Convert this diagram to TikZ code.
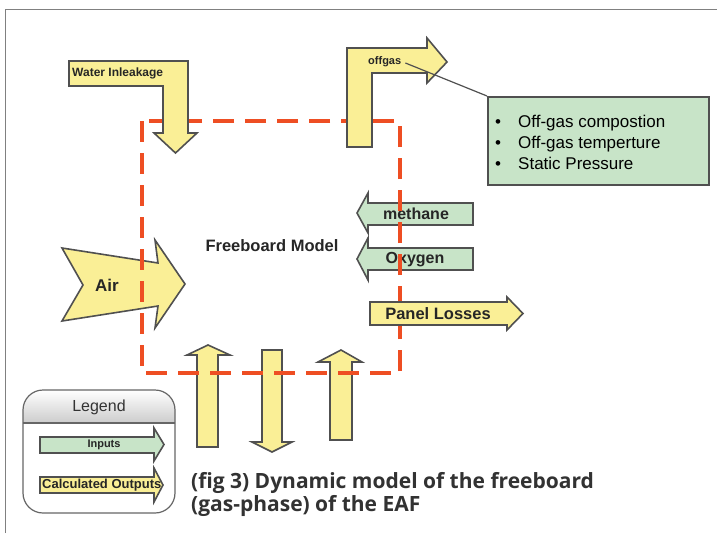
\documentclass[tikz,border=0pt]{standalone}
\usepackage{fontspec}
\setmainfont{Liberation Sans}
\newfontfamily\capfont{Open Sans}
\usetikzlibrary{shadings}
\definecolor{ayellow}{RGB}{250,239,150}
\definecolor{agreen}{RGB}{200,228,200}
\definecolor{aedge}{RGB}{80,80,80}
\definecolor{ared}{RGB}{238,78,35}
\definecolor{capgray}{RGB}{50,50,50}
\newcommand{\fs}[1]{\fontsize{#1}{#1}\selectfont}
\tikzset{
  yarrow/.style={fill=ayellow, draw=aedge, line width=1.6pt, line join=miter},
  garrow/.style={fill=agreen, draw=aedge, line width=1.6pt, line join=miter},
  lbl/.style={font=\bfseries, text=black!85, inner sep=0pt},
  redbox/.style={draw=ared, line width=3.4pt, dash pattern=on 21pt off 11pt},
}
\begin{document}
\begin{tikzpicture}[x=1pt,y=-1pt]
\useasboundingbox (0,0) rectangle (717,533);
\fill[white] (0,0) rectangle (717,533);
% outer frame
\draw[gray, line width=1pt] (5,533) -- (5,9) -- (717,9);

% arrows under the dashed box
\draw[yarrow] (62,248) -- (158,263) -- (155,240) -- (185,284) -- (155,328) -- (158,306) -- (62,321) -- (83,285) -- cycle;
\node[lbl, font=\bfseries\fs{17}] (air) at (107,285) {Air};
\draw[garrow] (357,213) -- (368,193) -- (368,203) -- (473,203) -- (473,225) -- (368,225) -- (368,233) -- cycle;
\node[lbl, font=\bfseries\fs{16}] (methane) at (416,214) {methane};
\draw[garrow] (357,259) -- (368,238) -- (368,248) -- (473,248) -- (473,270) -- (368,270) -- (368,280) -- cycle;
\node[lbl, font=\bfseries\fs{16}] (oxygen) at (415,260) {Oxygen};
\draw[yarrow] (197,447) -- (197,355) -- (187,355) -- (208,345) -- (230,355) -- (218,355) -- (218,447) -- cycle;
\draw[yarrow] (262,350) -- (282,350) -- (282,442) -- (292,442) -- (272,452) -- (252,442) -- (262,442) -- cycle;
\draw[yarrow] (330,440) -- (330,362) -- (318,362) -- (341,350) -- (362,362) -- (352,362) -- (352,440) -- cycle;

% dashed freeboard boundary
\draw[redbox] (142,121) rectangle (400,373);
\node[lbl, font=\bfseries\fs{16.5}] (model) at (272,246) {Freeboard Model};

% arrows over the dashed box
\draw[yarrow] (69,61) -- (188,61) -- (188,133) -- (197,133) -- (175.5,153) -- (154,133) -- (163,133) -- (163,86) -- (69,86) -- cycle;
\node[lbl, font=\bfseries\fs{12}, anchor=west] (water) at (72,73) {Water Inleakage};
\draw[yarrow] (347,147) -- (347,48) -- (427,48) -- (427,38) -- (447,62) -- (427,83) -- (427,73) -- (372,73) -- (372,147) -- cycle;
\node[lbl, font=\bfseries\fs{11}, anchor=west] (offgas) at (368,62) {offgas};
\draw[yarrow] (370,302) -- (507,302) -- (507,297) -- (523,313.5) -- (507,330) -- (507,325) -- (370,325) -- cycle;
\node[lbl, font=\bfseries\fs{16.5}] (panel) at (438,314) {Panel Losses};

% green output box with callout
\node[draw=aedge, fill=agreen, line width=1.6pt, anchor=north west, minimum width=221pt, minimum height=88pt, inner sep=0pt] (outbox) at (487,96) {};
\draw[aedge, line width=1.2pt] (offgas.east) ++(4,1) -- (outbox.north west);
\node[font=\fs{17}, anchor=base west, inner sep=0pt] (b1) at (495,127) {\textbullet};
\node[font=\fs{17}, anchor=base west, inner sep=0pt] (t1) at (518,127) {Off-gas compostion};
\node[font=\fs{17}, anchor=base west, inner sep=0pt] (b2) at (495,148) {\textbullet};
\node[font=\fs{17}, anchor=base west, inner sep=0pt] (t2) at (518,148) {Off-gas temperture};
\node[font=\fs{17}, anchor=base west, inner sep=0pt] (b3) at (495,169) {\textbullet};
\node[font=\fs{17}, anchor=base west, inner sep=0pt] (t3) at (518,169) {Static Pressure};

% legend
\fill[white] (23,390) [rounded corners=20pt] rectangle (175,513);
\begin{scope}
  \clip (23,390) [rounded corners=20pt] rectangle (175,513);
  \shade[top color=white, bottom color=black!20] (23,390) rectangle (175,423);
\end{scope}
\draw[black!60, line width=1.2pt] (23,423) -- (175,423);
\draw[black!60, line width=1.2pt, rounded corners=20pt] (23,390) rectangle (175,513);
\node[font=\fs{16}, text=black!80, inner sep=0pt] (legend) at (99,407) {Legend};
\draw[garrow] (40,437) -- (154,437) -- (154,428) -- (164,444.5) -- (154,461) -- (154,453) -- (40,453) -- cycle;
\node[lbl, font=\bfseries\fs{11}] (inputs) at (104,445) {Inputs};
\draw[yarrow] (40,477) -- (154,477) -- (154,468) -- (163,485) -- (154,502) -- (154,493) -- (40,493) -- cycle;
\node[lbl, font=\bfseries\fs{13}, anchor=west] (outputs) at (42,485.5) {Calculated Outputs};

% caption
\node[font=\capfont\bfseries\fs{21}, text=capgray, anchor=base west, inner sep=0pt] (cap1) at (191,488) {(fig 3) Dynamic model of the freeboard};
\node[font=\capfont\bfseries\fs{21}, text=capgray, anchor=base west, inner sep=0pt] (cap2) at (191,511) {(gas-phase) of the EAF};
\end{tikzpicture}
\end{document}
